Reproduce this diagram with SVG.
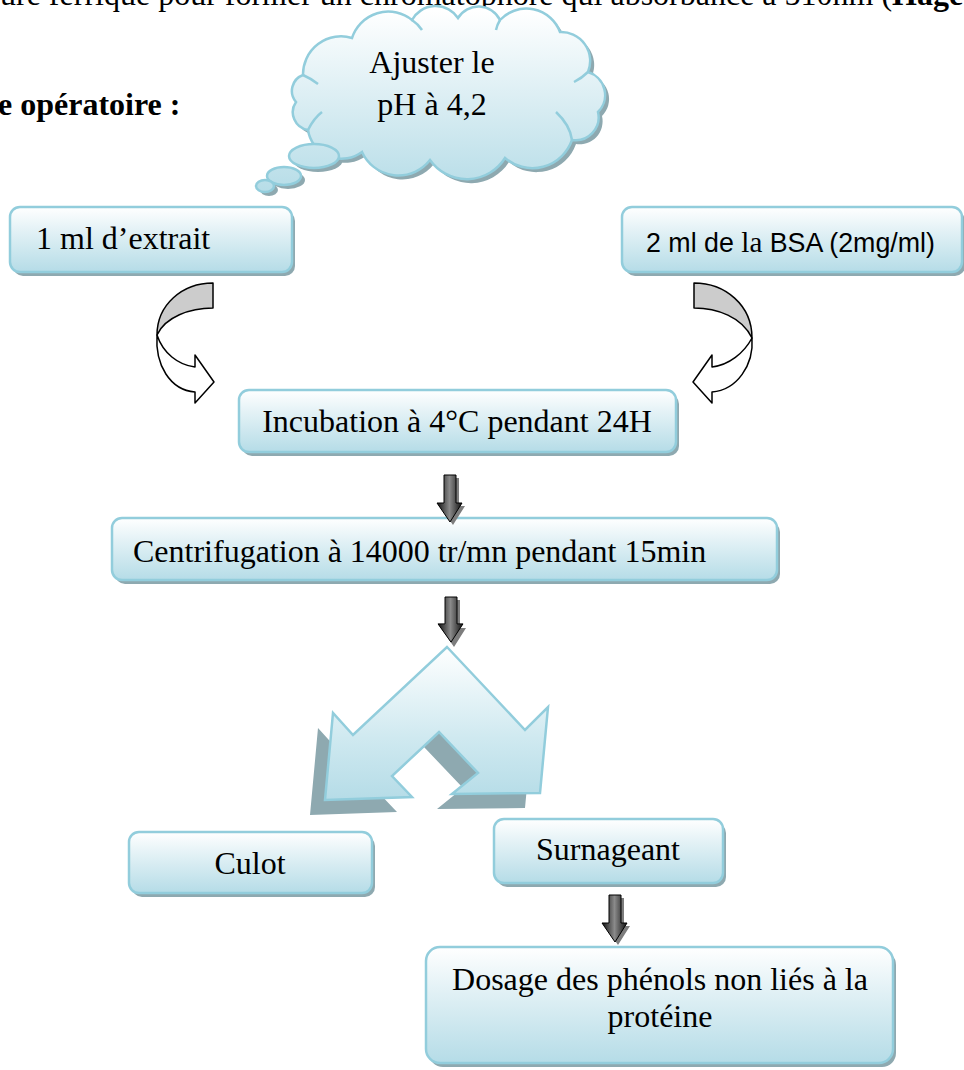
<svg xmlns="http://www.w3.org/2000/svg" width="964" height="1070" viewBox="0 0 964 1070">
<defs>
<linearGradient id="boxg" x1="0" y1="0" x2="0" y2="1">
<stop offset="0" stop-color="#ffffff"/>
<stop offset="0.35" stop-color="#e4f2f6"/>
<stop offset="1" stop-color="#b5dce7"/>
</linearGradient>
<linearGradient id="cloudg" gradientUnits="userSpaceOnUse" x1="0" y1="10" x2="0" y2="195">
<stop offset="0" stop-color="#ffffff"/>
<stop offset="1" stop-color="#b5dce7"/>
</linearGradient>
<linearGradient id="splitg" gradientUnits="userSpaceOnUse" x1="0" y1="646" x2="0" y2="800">
<stop offset="0" stop-color="#ffffff"/>
<stop offset="0.6" stop-color="#cfe9f0"/>
<stop offset="1" stop-color="#b5dce7"/>
</linearGradient>
<linearGradient id="darkg" x1="0" y1="0" x2="1" y2="0">
<stop offset="0" stop-color="#111111"/>
<stop offset="0.5" stop-color="#8a8a8a"/>
<stop offset="1" stop-color="#111111"/>
</linearGradient>
<path id="darr" d="M-6,0 H6 V28 H12 L0,47 L-13,28 H-6 Z"/>
</defs>
<style>
.txt{font-family:"Liberation Serif","Times New Roman",serif;font-size:32px;fill:#000}
.box{fill:url(#boxg);stroke:#92cddc;stroke-width:2.5}
.shd{fill:#8ea9b0}
.ctr{text-anchor:middle}
.curv{stroke:#000;stroke-width:1.5;stroke-linejoin:round}
.dark{fill:url(#darkg);stroke:#000;stroke-width:1}
.dshd{fill:#7d7d7d}
</style>

<text class="txt" x="0" y="5">ure ferrique pour former un chromatophore qui absorbance à 510nm (<tspan font-weight="bold">Hage</tspan></text>
<text class="txt" x="-2" y="115" font-weight="bold" font-size="31">e opératoire :</text>

<g id="cloud">
<g transform="translate(4,4)" class="shd">
<path d="M303,75 A38,38 0 0 1 352,38 A38,38 0 0 1 412,20 A27,27 0 0 1 458,18 A24,24 0 0 1 500,20 A36,36 0 0 1 560,32 A29,29 0 0 1 588,72 A24,24 0 0 1 598,112 A23,23 0 0 1 572,140 A42,42 0 0 1 505,158 A45,45 0 0 1 430,160 A40,40 0 0 1 362,152 A34,34 0 0 1 308,130 A18,18 0 0 1 296,102 A17,17 0 0 1 303,75 Z"/>
<ellipse cx="314" cy="156" rx="25" ry="12"/>
<ellipse cx="284" cy="176" rx="17" ry="9"/>
<ellipse cx="265" cy="186" rx="9" ry="6"/>
</g>
<path d="M303,75 A38,38 0 0 1 352,38 A38,38 0 0 1 412,20 A27,27 0 0 1 458,18 A24,24 0 0 1 500,20 A36,36 0 0 1 560,32 A29,29 0 0 1 588,72 A24,24 0 0 1 598,112 A23,23 0 0 1 572,140 A42,42 0 0 1 505,158 A45,45 0 0 1 430,160 A40,40 0 0 1 362,152 A34,34 0 0 1 308,130 A18,18 0 0 1 296,102 A17,17 0 0 1 303,75 Z" fill="url(#cloudg)" stroke="#92cddc" stroke-width="2.5"/>
<g fill="none" stroke="#92cddc" stroke-width="2.5">
<path d="M303,75 Q310,78 318,84"/>
<path d="M412,20 Q418,24 422,30"/>
<path d="M500,20 Q497,25 496,30"/>
<path d="M588,72 Q582,78 574,82"/>
<path d="M572,140 Q570,125 556,112"/>
<path d="M308,130 Q314,118 322,112"/>
</g>
<ellipse cx="314" cy="156" rx="25" ry="12" fill="url(#cloudg)" stroke="#92cddc" stroke-width="2.5"/>
<ellipse cx="284" cy="176" rx="17" ry="9" fill="url(#cloudg)" stroke="#92cddc" stroke-width="2.5"/>
<ellipse cx="265" cy="186" rx="9" ry="6" fill="url(#cloudg)" stroke="#92cddc" stroke-width="2.5"/>
<text class="txt ctr" x="432" y="73">Ajuster le</text>
<text class="txt ctr" x="432" y="115">pH à 4,2</text>
</g>

<g id="extrait">
<rect class="shd" x="13" y="211" width="282" height="65" rx="10"/>
<rect class="box" x="10" y="207" width="282" height="65" rx="10"/>
<text class="txt" x="36" y="249">1 ml d’extrait</text>
</g>

<g id="bsa">
<rect class="shd" x="625" y="211" width="340" height="65" rx="10"/>
<rect class="box" x="622" y="207" width="340" height="65" rx="10"/>
<text x="646" y="252" font-family="'Liberation Sans',Arial,sans-serif" font-size="26.8">2 ml de <tspan font-family="'Liberation Serif',serif" font-size="29">la</tspan> BSA (2mg/ml)</text>
</g>

<g id="incubation">
<rect class="shd" x="242" y="394" width="437" height="62" rx="10"/>
<rect class="box" x="239" y="390" width="437" height="62" rx="10"/>
<text class="txt ctr" x="457" y="432">Incubation à 4°C pendant 24H</text>
</g>

<g id="centrifugation">
<rect class="shd" x="115" y="522" width="665" height="62" rx="10"/>
<rect class="box" x="112" y="518" width="665" height="62" rx="10"/>
<text class="txt" x="133" y="562">Centrifugation à 14000 tr/mn pendant 15min</text>
</g>

<g id="culot">
<rect class="shd" x="132" y="836" width="243" height="61" rx="10"/>
<rect class="box" x="129" y="832" width="243" height="61" rx="10"/>
<text class="txt ctr" x="250" y="874">Culot</text>
</g>

<g id="surnageant">
<rect class="shd" x="497" y="823" width="229" height="64" rx="10"/>
<rect class="box" x="494" y="819" width="229" height="64" rx="10"/>
<text class="txt ctr" x="608" y="860">Surnageant</text>
</g>

<g id="dosage">
<rect class="shd" x="429" y="951" width="467" height="116" rx="14"/>
<rect class="box" x="426" y="947" width="467" height="116" rx="14"/>
<text class="txt ctr" x="660" y="990">Dosage des phénols non liés à la</text>
<text class="txt ctr" x="660" y="1027">protéine</text>
</g>

<g id="connectors">
<g id="curved-left">
<path class="curv" fill="#cccccc" d="M213,283 L213,308 C190,308 165,317 157,335 C157,305 182,283 213,283 Z"/>
<path class="curv" fill="#ffffff" d="M157,335 C163,353 178,365 195,367 L195,355 L214,382 L195,403 L195,392 C170,390 155,365 157,335 Z"/>
</g>
<g id="curved-right" transform="translate(907,0) scale(-1,1)">
<path class="curv" fill="#cccccc" d="M213,283 L213,308 C190,308 165,317 155,338 C155,305 182,283 213,283 Z"/>
<path class="curv" fill="#ffffff" d="M155,338 C163,353 178,365 195,367 L195,355 L214,382 L195,403 L195,392 C170,390 153,365 155,338 Z"/>
</g>
<g id="down1" transform="translate(450,475)">
<use href="#darr" class="dshd" transform="translate(3,3)"/>
<use href="#darr" class="dark"/>
</g>
<g id="down2" transform="translate(451,597)">
<use href="#darr" class="dshd" transform="translate(3,3)"/>
<use href="#darr" class="dark" transform="scale(1,0.96)"/>
</g>
<g id="down3" transform="translate(615,895)">
<use href="#darr" class="dshd" transform="translate(3,3)"/>
<use href="#darr" class="dark"/>
</g>
<g id="split">
<path class="shd" transform="translate(-15,15)" d="M447,647 L525,730 L548,707 L540,793 L452,794 L478,773 L439,732 L392,776 L412,797 L325,800 L333,713 L353,735 Z"/>
<path fill="url(#splitg)" stroke="#92cddc" stroke-width="2.5" stroke-linejoin="miter" d="M447,647 L525,730 L548,707 L540,793 L452,794 L478,773 L439,732 L392,776 L412,797 L325,800 L333,713 L353,735 Z"/>
</g>
</g>
</svg>
